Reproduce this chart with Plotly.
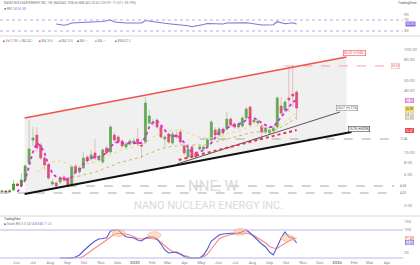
import math
import pandas as pd
import plotly.graph_objects as go

# ---------------- data (weekly, NNE) ----------------
week_start = "2024-05-06"
n_weeks = 77

open_ = [4.13, 4.18, 4.09, 4.28, 4.90, 4.72, 5.36, 7.85, 13.16, 14.72,
         11.76, 8.78, 7.68, 4.90, 5.01, 5.12, 5.73, 5.60, 4.79, 7.34,
         6.41, 7.02, 8.98, 8.59, 9.83, 8.40, 8.03, 11.00, 10.05, 14.72,
         14.08, 12.87, 11.25, 12.03, 12.30, 13.46, 11.76, 12.58, 19.27, 19.27,
         20.62, 17.62, 13.46, 15.06, 12.30, 14.72, 15.75, 11.50, 8.98, 11.25,
         9.83, 10.75, 10.75, 11.50, 13.16, 16.47, 14.72, 16.84, 16.84, 21.08,
         18.84, 17.62, 18.02, 21.56, 27.60, 19.71, 19.27, 18.02, 15.75, 15.40,
         16.10, 17.62, 28.23, 25.80, 33.79, 36.96, 38.66]
high = [4.28, 4.28, 4.35, 5.36, 5.12, 6.27, 7.68, 20.62, 17.62, 17.62,
        12.30, 9.19, 7.85, 5.48, 5.24, 5.86, 5.99, 5.73, 7.51, 7.68,
        7.34, 10.05, 9.40, 10.51, 13.46, 9.40, 11.00, 11.50, 18.43, 15.75,
        14.72, 13.46, 12.58, 13.46, 13.76, 17.23, 13.16, 34.55, 25.80, 21.08,
        21.56, 18.43, 14.72, 15.75, 16.10, 16.10, 16.84, 12.03, 11.25, 11.76,
        10.28, 11.76, 11.76, 13.76, 20.62, 17.62, 17.62, 17.62, 24.67, 22.05,
        19.71, 19.71, 22.55, 27.60, 28.87, 21.56, 21.08, 18.84, 18.02, 17.23,
        18.02, 35.34, 34.55, 32.30, 67.90, 69.50, 40.40]
low = [4.00, 4.00, 4.02, 4.18, 4.60, 4.58, 5.24, 7.51, 11.50, 10.05,
       8.40, 6.71, 5.36, 4.68, 4.58, 4.90, 5.12, 4.58, 4.68, 6.13,
       6.13, 6.86, 7.85, 8.21, 8.40, 8.03, 7.68, 9.40, 9.61, 12.30,
       12.03, 11.00, 10.75, 11.50, 11.76, 11.50, 8.78, 12.03, 18.43, 18.02,
       16.84, 13.46, 11.25, 12.03, 11.76, 13.46, 12.03, 9.40, 8.59, 8.59,
       8.59, 10.28, 10.51, 11.00, 12.87, 14.08, 14.08, 14.72, 16.10, 17.62,
       16.84, 16.84, 17.23, 20.62, 17.62, 18.84, 18.43, 13.76, 15.06, 14.72,
       15.40, 16.84, 23.06, 24.67, 24.67, 27.60, 20.62]
close = [4.18, 4.09, 4.20, 4.90, 4.72, 5.36, 7.34, 10.75, 13.76, 11.00,
         8.78, 7.51, 5.60, 5.12, 4.68, 5.60, 5.36, 4.79, 7.18, 6.41,
         7.02, 8.78, 8.21, 9.40, 8.78, 8.78, 10.51, 9.83, 17.62, 13.16,
         12.58, 11.50, 12.03, 12.87, 12.87, 12.03, 11.50, 30.20, 22.55, 19.71,
         17.62, 14.08, 14.08, 12.58, 15.06, 14.08, 12.58, 9.83, 10.75, 8.98,
         8.98, 11.25, 11.25, 13.16, 19.71, 14.72, 16.84, 15.40, 21.08, 18.43,
         17.62, 18.84, 21.56, 26.39, 18.43, 20.62, 20.16, 15.75, 17.23, 16.47,
         17.23, 33.79, 24.12, 30.88, 32.30, 35.34, 26.99]

# moving averages (end-aligned with the candles)
ma_fast = [4.09, 4.68, 5.36, 7.34, 10.05, 12.30, 11.50, 9.83, 7.51, 6.27,
           5.73, 5.60, 5.36, 5.48, 5.73, 6.41, 6.71, 7.68, 8.40, 8.78,
           8.98, 8.98, 9.40, 9.83, 11.25, 12.30, 12.58, 12.30, 12.03, 12.30,
           12.30, 12.30, 12.30, 14.08, 17.62, 19.71, 20.16, 18.43, 16.47, 14.72,
           14.08, 14.72, 13.76, 12.30, 11.00, 10.05, 9.83, 10.05, 10.51, 11.25,
           12.30, 14.08, 15.75, 16.10, 17.23, 18.02, 18.43, 18.84, 19.27, 20.62,
           22.05, 21.56, 20.62, 19.27, 18.43, 17.62, 17.62, 19.71, 22.05, 24.67,
           27.60, 30.88, 32.30]
ma_mid = [6.41, 6.86, 7.34, 7.68, 8.03, 8.21, 8.21, 8.03, 7.68, 7.34,
          7.34, 7.34, 7.51, 7.68, 7.85, 8.03, 8.21, 8.59, 8.98, 9.40,
          9.83, 10.28, 10.51, 10.75, 11.00, 11.25, 11.50, 11.76, 12.30, 13.16,
          14.08, 14.72, 15.40, 15.75, 16.10, 16.47, 16.47, 16.47, 16.10, 15.40,
          15.06, 14.40, 14.08, 13.76, 13.76, 13.76, 13.76, 14.08, 14.40, 15.06,
          15.40, 15.75, 16.10, 16.47, 17.23, 18.02, 18.02, 18.02, 17.62, 17.62,
          17.23, 17.23, 18.02, 18.84, 20.16, 21.08, 22.55, 24.12]
ma_slow = [5.73, 5.73, 5.86, 5.99, 6.13, 6.27, 6.41, 6.56, 6.86, 7.02,
           7.34, 7.51, 7.85, 8.03, 8.21, 8.40, 8.59, 8.78, 8.98, 9.40,
           9.83, 10.05, 10.51, 10.75, 11.00, 11.25, 11.50, 11.50, 11.76, 11.76,
           11.76, 11.76, 11.76, 11.76, 11.76, 12.03, 12.30, 12.58, 12.87, 13.16,
           13.46, 13.76, 14.08, 14.40, 14.72, 15.06, 15.40, 15.75, 15.75, 15.75,
           15.75, 16.10, 16.10, 16.84, 17.62, 18.43, 19.27, 20.62, 22.05]

rsi = [55.5, 53.6, 50.7, 53.6, 59.1, 59.8, 60.2, 60.9, 61.6, 62.0,
       62.4, 62.7, 64.5, 67.5, 70.0, 62.7, 60.9, 59.8, 59.1, 59.1,
       58.4, 57.3, 59.1, 68.2, 65.6, 63.5, 60.9, 59.1, 58.0, 56.5,
       55.5, 54.4, 52.9, 51.1, 48.9, 45.6, 47.5, 49.3, 53.6, 57.3,
       57.3, 55.5, 55.5, 55.5, 59.1, 59.8, 59.1, 59.1, 59.5, 60.2,
       58.4, 55.5, 53.6, 51.8, 51.8, 52.5, 52.9, 63.8, 59.1, 56.2,
       58.0, 60.2, 55.5]

stoch_k = [0, 0, 0, 0, 3.6, 10.7, 25.0, 39.3, 50.0, 60.7,
           67.9, 69.6, 72.5, 96.4, 100, 100, 85.7, 76.0, 73.2, 71.4,
           64.3, 60.7, 71.4, 76.0, 75.0, 67.9, 50.0, 28.6, 17.9, 19.6,
           21.4, 14.3, 5.4, 0, 0, 0, 0, 10.7, 32.1, 60.7,
           73.2, 82.1, 85.7, 88.2, 88.2, 88.2, 89.3, 93.9, 100, 89.3,
           75.0, 62.5, 50.0, 39.3, 21.4, 10.7, 39.3, 71.4, 92.9, 75.0,
           71.4, 53.6]
stoch_d = [0, 0, 0, 1.8, 5.4, 16.1, 26.8, 35.7, 44.6, 53.6,
           64.3, 75.0, 85.7, 88.2, 88.2, 85.7, 82.1, 76.8, 69.6, 67.9,
           69.6, 70.3, 68.9, 66.1, 55.4, 42.9, 32.1, 23.2, 17.9, 14.3,
           8.9, 5.4, 0, 0, 0, 3.6, 14.3, 32.1, 50.0, 67.9,
           75.0, 80.4, 83.9, 85.7, 87.5, 88.2, 88.2, 85.7, 80.4, 71.4,
           64.3, 53.6, 41.1, 35.7, 34.6, 42.9, 51.8, 62.5, 69.6, 71.4]
cross_dates = ["2024-12-03", "2025-02-05", "2025-07-10", "2025-10-04"]
cross_vals = [89, 82, 93, 71]

channel_dates = ["2024-06-16", "2026-01-18"]
channel_top = [21.56, 85.0]
channel_bottom = [3.91, 15.40]
support_dates = ["2024-06-16", "2026-01-27"]
support_vals = [3.91, 15.75]
trend_dates = ["2025-03-18", "2026-01-06"]
trend_vals = [7.68, 24.67]
red_trend_dates = ["2025-03-21", "2025-10-20"]
red_trend_vals = [8.40, 16.47]
level_starts = ["2025-04-28", "2024-09-02", "2024-05-02"]
level_vals = [13.46, 4.68, 4.00]
high_level_start = "2025-09-29"
high_level_val = 69.50
level_end = "2026-04-14"

price_ticks = [3, 6, 8, 10, 40, 50, 80, 100]
month_ticks = pd.date_range("2024-06-01", "2026-04-01", freq="MS")
month_text = ["Jun", "Jul", "Aug", "Sep", "Oct", "Nov", "Dec", "<b>2025</b>", "Feb", "Mar", "Apr",
              "May", "Jun", "Jul", "Aug", "Sep", "Oct", "Nov", "Dec", "<b>2026</b>", "Feb", "Mar", "Apr"]

# ---------------- layout helpers ----------------
W, H = 420, 265
ML, MR, MT, MB = 0, 17, 0, 6
PW, PH = W - ML - MR, H - MT - MB


def fx(px):
    return (px - ML) / PW


def fy(py):
    return (H - MB - py) / PH


dates = pd.date_range(week_start, periods=n_weeks, freq="7D")


def tail(vals):
    return dates[len(dates) - len(vals):]


GREEN, RED = "#35a021", "#e3234f"
fig = go.Figure()

# channel shading
fig.add_trace(go.Scatter(
    x=channel_dates + channel_dates[::-1], y=channel_top + channel_bottom[::-1],
    fill="toself", fillcolor="rgba(200,200,200,0.28)", line=dict(width=0),
    mode="lines", yaxis="y2", hoverinfo="skip"))

# horizontal levels
for s, v in zip(level_starts, level_vals):
    fig.add_trace(go.Scatter(x=[s, level_end], y=[v, v], mode="lines", yaxis="y2",
                             line=dict(color="#a8a8a8", width=1, dash="dash")))
fig.add_trace(go.Scatter(x=[high_level_start, level_end], y=[high_level_val] * 2, mode="lines",
                         yaxis="y2", line=dict(color="#f4a0a8", width=1, dash="dash")))

# channel lines
fig.add_trace(go.Scatter(x=channel_dates, y=channel_top, mode="lines", yaxis="y2",
                         line=dict(color="#ef5350", width=1.5)))
fig.add_trace(go.Scatter(x=support_dates, y=support_vals, mode="lines", yaxis="y2",
                         line=dict(color="#111111", width=2)))
fig.add_trace(go.Scatter(x=trend_dates, y=trend_vals, mode="lines", yaxis="y2",
                         line=dict(color="#555555", width=1)))

# moving averages
fig.add_trace(go.Scatter(x=tail(ma_slow), y=ma_slow, mode="lines", yaxis="y2",
                         line=dict(color="#cdbb5a", width=1, dash="dot")))
fig.add_trace(go.Scatter(x=tail(ma_mid), y=ma_mid, mode="lines", yaxis="y2",
                         line=dict(color="#ecdc78", width=1, dash="dot")))

# candles: pale wicks, then solid bodies
fig.add_trace(go.Candlestick(
    x=dates, open=open_, high=high, low=low, close=close, yaxis="y2", whiskerwidth=0,
    increasing=dict(line=dict(color="#b9cdb2", width=1), fillcolor="#b9cdb2"),
    decreasing=dict(line=dict(color="#f1b6c2", width=1), fillcolor="#f1b6c2")))
body_hi = [max(o, c) for o, c in zip(open_, close)]
body_lo = [min(o, c) for o, c in zip(open_, close)]
fig.add_trace(go.Candlestick(
    x=dates, open=open_, high=body_hi, low=body_lo, close=close, yaxis="y2", whiskerwidth=0,
    increasing=dict(line=dict(color=GREEN, width=0.6), fillcolor=GREEN),
    decreasing=dict(line=dict(color=RED, width=0.6), fillcolor=RED)))

fig.add_trace(go.Scatter(x=tail(ma_fast), y=ma_fast, mode="lines", yaxis="y2",
                         line=dict(color="#e026e0", width=1.8, dash="dot")))
fig.add_trace(go.Scatter(x=red_trend_dates, y=red_trend_vals, mode="lines", yaxis="y2",
                         line=dict(color="#f0304a", width=2, dash="dot")))

# RSI panel
for lv in (70, 30):
    fig.add_shape(type="line", xref="paper", yref="y", x0=0, x1=1, y0=lv, y1=lv,
                  line=dict(color="#b8a6ec", width=1, dash="dot"))
fig.add_trace(go.Scatter(x=tail(rsi), y=rsi, mode="lines", yaxis="y",
                         line=dict(color="#8c6ce0", width=1.1)))

# Stoch panel
for lv in (100, 0):
    fig.add_shape(type="line", xref="paper", yref="y3", x0=0, x1=1, y0=lv, y1=lv,
                  line=dict(color="#bdb5f2", width=1.2))
for d, v in zip(cross_dates, cross_vals):
    c = pd.Timestamp(d)
    fig.add_shape(type="circle", xref="x", yref="y3",
                  x0=c - pd.Timedelta(days=12), x1=c + pd.Timedelta(days=12), y0=v - 12, y1=v + 12,
                  fillcolor="rgba(255,190,140,0.5)", line=dict(color="rgba(255,160,110,0.6)", width=0.8))
fig.add_trace(go.Scatter(x=tail(stoch_d), y=stoch_d, mode="lines", yaxis="y3",
                         line=dict(color="#f28a7e", width=1.1)))
fig.add_trace(go.Scatter(x=tail(stoch_k), y=stoch_k, mode="lines", yaxis="y3",
                         line=dict(color="#5656dc", width=1.1)))

# separators
for py in (36, 216):
    fig.add_shape(type="line", xref="paper", yref="paper", x0=0, x1=W / PW, y0=fy(py), y1=fy(py),
                  line=dict(color="#d6d6d6", width=1))

ann = []
FONT = "Roboto"


def txt(x, y, s, size=3.6, color="#777", xanchor="left", xref="paper", yref="paper", **kw):
    ann.append(dict(x=x, y=y, text=s, xref=xref, yref=yref, showarrow=False, xanchor=xanchor,
                    yanchor="middle", font=dict(size=size, color=color, family=FONT), **kw))


# watermark
txt(fx(213), fy(186), "NNE, W", size=15, color="#dadada", xanchor="center")
txt(fx(208), fy(205), "NANO NUCLEAR ENERGY INC.", size=11, color="#dadada", xanchor="center")

# header / legends
txt(fx(2), fy(3), "NANO NUCLEAR ENERGY INC, 1W, NASDAQ  O38.66 H40.40 L20.62 C26.99 −11.67 (−30.19%)", size=3.2)
txt(1.04, fy(3), "TradingView", size=3.4, color="#555", xanchor="right")
txt(fx(2), fy(9), "<span style='color:#8c6ce0'>■</span> RSI 14 <span style='color:#8c6ce0'>55.50</span>", size=3.4)
leg = [(1, RED, "Vol 2.1M"), (17, "#e8d44d", "MA 24.1"), (37, "#f0304a", "MA 16.5"),
       (57, "#888888", "MA 13.5"), (75, "#2f3fe8", "MA —"), (93, "#a5a02a", "MA —"),
       (113, "#e026e0", "EMA 32.3")]
for x0, col, s in leg:
    txt(fx(x0), fy(41), f"<span style='color:{col}'>■</span> {s}", size=3.0)
txt(fx(2), fy(219), "TradingView", size=3.0, color="#444")
txt(fx(2), fy(224), "<span style='color:#5656dc'>■</span> Stoch RSI 3 3 14 14 "
    "<span style='color:#5656dc'>53.60</span> <span style='color:#f28a7e'>71.40</span>", size=3.2)

# line end labels
txt("2026-02-02", math.log10(93.0), "85.00 (+294%)", size=3.2, color="#ef5350", xanchor="center",
    xref="x", yref="y2", bordercolor="#ef5350", borderwidth=0.6, borderpad=0.4, bgcolor="white")
txt("2026-01-19", math.log10(26.99), "24.67 (+221%)", size=3.2, color="#555", xanchor="center",
    xref="x", yref="y2", bordercolor="#777", borderwidth=0.5, borderpad=0.4, bgcolor="white")
txt("2026-02-09", math.log10(16.84), "15.75 (+303%)", size=3.2, color="#222", xanchor="center",
    xref="x", yref="y2", bordercolor="#222", borderwidth=0.5, borderpad=0.4, bgcolor="white")
for v in level_vals:
    txt(fx(398), math.log10(v), f"{v:.2f}", size=3.0, color="#777", yref="y2")
txt(fx(391), math.log10(high_level_val), f"{high_level_val:.2f}", size=3.0, color="#ef5350", yref="y2",
    bordercolor="#f4a0a8", borderwidth=0.5, borderpad=0.3, bgcolor="white")

# axis value badges
badges = [(ma_fast[-1], "white", "#e026e0", "#9c1c9c"), (close[-1], "#f5e56b", "#e0c640", "#333"),
          (ma_mid[-1], "white", "#e0c640", "#666"), (ma_slow[-1], "white", "#cdbb5a", "#666"),
          (red_trend_vals[-1], "#f0304a", "#f0304a", "white")]
for v, bg, bd, fc in badges:
    txt(1.005, math.log10(v), f"{v:.2f}", size=3.0, color=fc, yref="y2", bgcolor=bg,
        bordercolor=bd, borderwidth=0.5, borderpad=0)
txt(1.005, rsi[-1], f"{rsi[-1]:.2f}", size=3.2, color="white", yref="y", bgcolor="#8c6ce0",
    borderpad=0.2)
txt(1.005, stoch_d[-1], f"{stoch_d[-1]:.2f}", size=3.0, color="#d0453a", yref="y3", bgcolor="white",
    bordercolor="#f28a7e", borderwidth=0.5, borderpad=0)
txt(1.005, stoch_k[-1], f"{stoch_k[-1]:.2f}", size=3.0, color="#3a3ab0", yref="y3", bgcolor="white",
    bordercolor="#5656dc", borderwidth=0.5, borderpad=0)

tickfont = dict(size=4.2, color="#888", family=FONT)
main_lo, main_hi = 2.44, 133.2
fig.update_layout(
    width=W, height=H, margin=dict(l=ML, r=MR, t=MT, b=MB),
    paper_bgcolor="white", plot_bgcolor="white", showlegend=False,
    font=dict(family=FONT),
    xaxis=dict(type="date", range=["2024-05-02 12:00", "2026-04-30"], anchor="y3",
               showgrid=False, zeroline=False, rangeslider=dict(visible=False),
               tickvals=list(month_ticks), ticktext=month_text, tickfont=tickfont,
               ticks="", showline=False, tickangle=0),
    yaxis=dict(domain=[fy(35), fy(12)], range=[15.45, 99.1], side="right", anchor="x",
               showgrid=False, zeroline=False, tickvals=[30, 70, 90], tickfont=tickfont, ticks=""),
    yaxis2=dict(domain=[fy(215), fy(37)], type="log",
                range=[math.log10(main_lo), math.log10(main_hi)], side="right", anchor="x",
                showgrid=False, zeroline=False, tickfont=tickfont, ticks="",
                tickvals=price_ticks, ticktext=[f"{t:.2f}" for t in price_ticks]),
    yaxis3=dict(domain=[0, fy(217)], range=[-3.57, 146.4], side="right", anchor="x",
                showgrid=False, zeroline=False, tickvals=[20, 100, 130], tickfont=tickfont, ticks=""),
    annotations=ann,
)

fig.write_html("out.html")
